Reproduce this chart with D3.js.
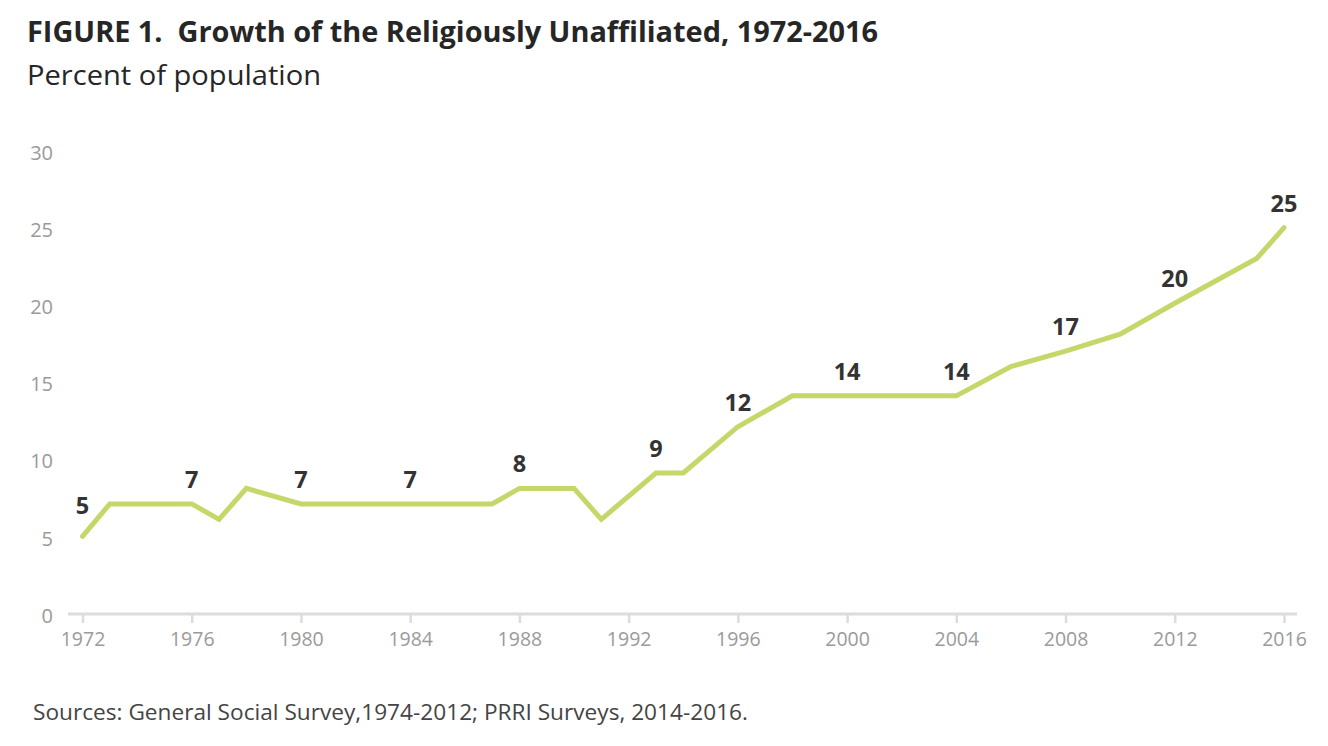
<!DOCTYPE html>
<html><head><meta charset="utf-8">
<script src="https://cdn.jsdelivr.net/npm/d3@7"></script>
<style>
body{margin:0;background:#fff;}
svg{display:block;font-family:"Open Sans",sans-serif;}
</style></head>
<body><svg id="c" width="1328" height="746"></svg>
<script>
const years  = [1972,1973,1974,1975,1976,1977,1978,1980,1982,1983,1984,1985,1986,1987,1988,1989,1990,1991,1993,1994,1996,1998,2000,2002,2004,2006,2008,2010,2012,2015,2016];
const values = [5.1,7.2,7.2,7.2,7.2,6.2,8.2,7.2,7.2,7.2,7.2,7.2,7.2,7.2,8.2,8.2,8.2,6.2,9.2,9.2,12.2,14.2,14.2,14.2,14.2,16.1,17.1,18.2,20.2,23.1,25.1];
const labelYears = [1972,1976,1980,1984,1988,1993,1996,2000,2004,2008,2012,2016];
const labelTexts = ["5","7","7","7","8","9","12","14","14","17","20","25"];
const xTicks = [1972,1976,1980,1984,1988,1992,1996,2000,2004,2008,2012,2016];
const yTicks = [0,5,10,15,20,25,30];
const title = "FIGURE 1.  Growth of the Religiously Unaffiliated, 1972-2016";
const subtitle = "Percent of population";
const source = "Sources: General Social Survey,1974-2012; PRRI Surveys, 2014-2016.";

const svg = d3.select("#c");
const x = d3.scaleLinear().domain([1972,2016]).range([82.5,1284]);
const y = d3.scaleLinear().domain([0,30]).range([615,152]);
const data = years.map((yr,i)=>({yr, v: values[i]}));

svg.append("text").attr("x",27).attr("y",42).attr("font-size",28).attr("font-weight",700)
  .attr("fill","#262626").attr("textLength",851).attr("lengthAdjust","spacingAndGlyphs")
  .attr("xml:space","preserve").style("white-space","pre").text(title);
svg.append("text").attr("x",27).attr("y",85).attr("font-size",27)
  .attr("fill","#262626").attr("textLength",294).attr("lengthAdjust","spacingAndGlyphs").text(subtitle);
svg.append("text").attr("x",33).attr("y",720).attr("font-size",21)
  .attr("fill","#444").attr("textLength",715).attr("lengthAdjust","spacingAndGlyphs").text(source);

// x axis
const xAxis = svg.append("g").attr("transform","translate(0,614)")
  .call(d3.axisBottom(x).tickValues(xTicks).tickFormat(d3.format("d")).tickSize(9).tickSizeOuter(0));
xAxis.select(".domain").remove();
xAxis.insert("line",":first-child").attr("x1",68).attr("x2",1297).attr("y1",0).attr("y2",0)
  .attr("stroke","#dcdcdc").attr("stroke-width",3);
xAxis.selectAll(".tick line").attr("stroke","#dcdcdc").attr("stroke-width",2.5);
xAxis.selectAll(".tick text").attr("fill","#9a9a9a").attr("font-size",19.5).attr("dy","1.05em")
  .attr("font-family","Open Sans, sans-serif");

// y axis
const yAxis = svg.append("g").attr("transform","translate(53,0)")
  .call(d3.axisLeft(y).tickValues(yTicks).tickSize(0));
yAxis.select(".domain").remove();
yAxis.selectAll(".tick text").attr("x",0).attr("fill","#9a9a9a").attr("font-size",20)
  .attr("font-family","Open Sans, sans-serif").attr("dy","0.36em");

// line
svg.append("path").datum(data)
  .attr("fill","none").attr("stroke","#c4d86a").attr("stroke-width",5)
  .attr("stroke-linejoin","miter").attr("stroke-linecap","round")
  .attr("d", d3.line().x(d=>x(d.yr)).y(d=>y(d.v)));

// labels
const lab = labelYears.map((yr,i)=>({yr, t: labelTexts[i], v: values[years.indexOf(yr)]}));
svg.append("g").selectAll("text").data(lab).join("text")
  .attr("x", d=>x(d.yr)).attr("y", d=>y(d.v) - (d.yr===1972 ? 22 : 16))
  .attr("text-anchor","middle").attr("font-size",23.5).attr("font-weight",700)
  .attr("fill","#333").text(d=>d.t);
</script></body></html>
